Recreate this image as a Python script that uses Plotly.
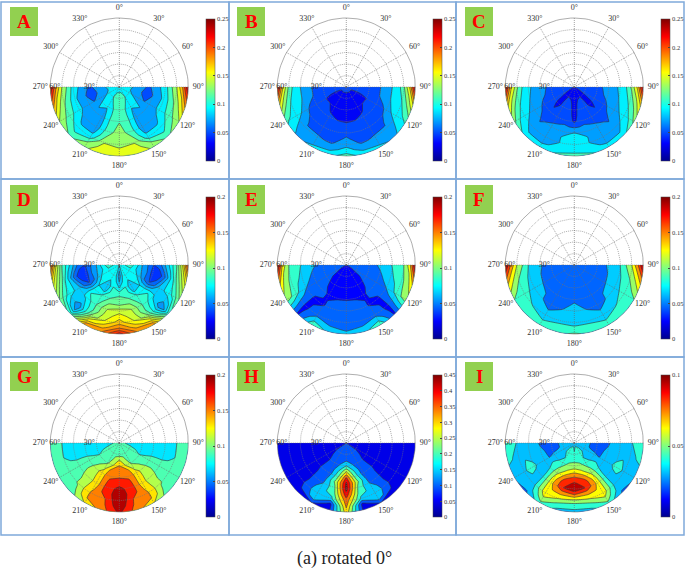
import numpy as np
import plotly.graph_objects as go

W, H = 685, 569
radii = [0, 5, 10, 15, 20, 25, 30, 35, 40, 45, 50, 55, 60]
half_thetas = [90, 105, 120, 135, 150, 165, 180]
ring_values = [10, 20, 30, 40, 50, 60]
spoke_angles = list(range(0, 360, 30))
panel_names = ["A", "B", "C", "D", "E", "F", "G", "H", "I"]

panel_a = [
    [.09, .095, .085, .072, .065, .058, .062, .078, .09, .115, .14, .18, .24],
    [.09, .09, .08, .068, .06, .055, .06, .072, .085, .105, .125, .15, .19],
    [.09, .09, .085, .075, .065, .06, .065, .074, .088, .098, .11, .125, .14],
    [.09, .095, .095, .09, .085, .08, .07, .07, .07, .076, .09, .10, .115],
    [.09, .10, .10, .095, .082, .075, .07, .068, .068, .076, .09, .12, .135],
    [.09, .10, .105, .103, .10, .10, .103, .105, .11, .12, .138, .15, .158],
    [.09, .10, .105, .108, .11, .115, .118, .125, .13, .135, .135, .143, .155],
]
panel_b = [
    [.05, .045, .045, .048, .052, .055, .06, .07, .08, .09, .115, .16, .24],
    [.05, .045, .043, .045, .05, .055, .06, .07, .08, .085, .10, .125, .16],
    [.05, .04, .038, .038, .04, .045, .05, .055, .065, .08, .09, .095, .105],
    [.05, .04, .035, .035, .04, .045, .05, .053, .055, .058, .062, .07, .075],
    [.05, .04, .033, .032, .035, .038, .045, .048, .052, .056, .062, .072, .085],
    [.05, .04, .032, .03, .03, .033, .04, .045, .05, .053, .058, .072, .092],
    [.05, .04, .032, .03, .03, .032, .038, .048, .055, .062, .072, .088, .108],
]
panel_c = [
    [.04, .044, .048, .052, .055, .061, .068, .075, .084, .098, .125, .165, .24],
    [.04, .042, .045, .048, .052, .058, .065, .072, .08, .09, .105, .13, .165],
    [.04, .04, .044, .048, .05, .053, .056, .064, .072, .08, .09, .102, .125],
    [.04, .035, .033, .033, .035, .04, .05, .055, .058, .062, .07, .078, .09],
    [.04, .038, .04, .045, .045, .042, .05, .058, .065, .068, .07, .076, .09],
    [.04, .036, .038, .045, .048, .05, .054, .062, .072, .08, .08, .086, .102],
    [.04, .034, .032, .033, .034, .035, .037, .058, .08, .085, .086, .092, .108],
]
panel_d = [
    [.07, .08, .085, .075, .06, .05, .04, .045, .06, .075, .09, .12, .165],
    [.07, .075, .08, .07, .06, .05, .035, .032, .045, .065, .085, .105, .125],
    [.07, .075, .08, .075, .065, .05, .04, .048, .065, .07, .075, .085, .10],
    [.07, .075, .08, .078, .075, .07, .075, .08, .072, .065, .052, .06, .085],
    [.07, .075, .08, .07, .06, .065, .08, .085, .09, .09, .10, .125, .15],
    [.07, .07, .07, .075, .08, .085, .09, .10, .11, .115, .12, .135, .15],
    [.08, .06, .055, .06, .07, .085, .095, .10, .115, .125, .135, .15, .175],
]
panel_e = [
    [.035, .04, .045, .047, .05, .052, .06, .068, .076, .08, .095, .125, .20],
    [.035, .04, .045, .045, .046, .047, .052, .06, .07, .08, .09, .105, .14],
    [.035, .035, .038, .04, .04, .045, .048, .05, .055, .068, .08, .095, .105],
    [.035, .033, .032, .032, .035, .037, .04, .037, .034, .032, .03, .03, .032],
    [.035, .032, .03, .03, .028, .03, .033, .034, .034, .04, .048, .07, .09],
    [.035, .03, .03, .028, .028, .028, .033, .04, .042, .045, .047, .055, .07],
    [.035, .03, .028, .027, .027, .029, .034, .04, .043, .045, .046, .05, .06],
]
panel_f = [
    [.04, .045, .047, .048, .05, .052, .057, .066, .075, .095, .115, .15, .20],
    [.04, .045, .046, .047, .048, .05, .055, .066, .072, .08, .095, .115, .14],
    [.04, .042, .044, .046, .048, .05, .053, .06, .07, .075, .08, .085, .095],
    [.04, .04, .042, .044, .045, .047, .05, .055, .056, .068, .074, .08, .085],
    [.04, .04, .04, .04, .04, .04, .045, .048, .05, .055, .065, .075, .085],
    [.04, .04, .042, .044, .045, .046, .047, .049, .055, .062, .07, .08, .09],
    [.04, .04, .043, .045, .046, .048, .05, .058, .062, .066, .07, .078, .098],
]
panel_g = [
    [.085, .08, .078, .075, .07, .068, .068, .068, .07, .073, .08, .085, .09],
    [.085, .082, .08, .076, .072, .072, .072, .072, .072, .075, .08, .085, .09],
    [.085, .085, .085, .085, .08, .083, .088, .09, .09, .09, .09, .09, .09],
    [.085, .085, .085, .09, .095, .098, .105, .108, .105, .102, .102, .095, .09],
    [.085, .088, .09, .092, .098, .115, .13, .128, .128, .135, .142, .142, .122],
    [.085, .09, .095, .105, .12, .15, .155, .165, .172, .172, .158, .155, .15],
    [.085, .085, .09, .12, .14, .15, .158, .172, .185, .19, .20, .195, .185],
]
panel_h = [
    [.05, .05, .045, .04, .04, .04, .04, .04, .04, .04, .04, .04, .04],
    [.05, .05, .05, .045, .04, .04, .04, .04, .04, .04, .04, .04, .04],
    [.06, .06, .06, .05, .05, .05, .045, .04, .04, .04, .04, .04, .04],
    [.08, .09, .09, .08, .07, .072, .075, .072, .072, .072, .075, .07, .05],
    [.09, .09, .09, .09, .09, .09, .09, .11, .12, .15, .17, .15, .07],
    [.10, .10, .10, .10, .125, .17, .20, .24, .21, .19, .16, .05, .05],
    [.10, .12, .10, .11, .17, .27, .37, .43, .44, .40, .35, .33, .30],
]
panel_i = [
    [.03, .032, .03, .025, .024, .024, .025, .03, .033, .034, .036, .04, .045],
    [.03, .035, .028, .025, .024, .025, .028, .032, .034, .035, .036, .036, .04],
    [.03, .035, .032, .028, .027, .026, .031, .034, .038, .04, .034, .032, .027],
    [.03, .036, .036, .033, .035, .04, .036, .033, .032, .032, .032, .03, .024],
    [.03, .038, .04, .037, .042, .048, .055, .062, .065, .066, .066, .055, .044],
    [.03, .04, .045, .042, .05, .058, .072, .085, .088, .072, .058, .044, .034],
    [.03, .035, .038, .045, .05, .065, .08, .09, .098, .078, .055, .04, .034],
]
panel_tables = [panel_a, panel_b, panel_c, panel_d, panel_e, panel_f, panel_g, panel_h, panel_i]

color_limits = [.25, .25, .25, .2, .2, .2, .2, .45, .1]
level_starts = [.02, .02, .02, .01, .015, .015, .02, .02, .0155]
level_steps = [.02, .02, .02, .01, .02, .02, .02, .05, .0105]
tick_sets = [
    [0, .05, .1, .15, .2, .25], [0, .05, .1, .15, .2, .25], [0, .05, .1, .15, .2, .25],
    [0, .05, .1, .15, .2], [0, .05, .1, .15, .2], [0, .05, .1, .15, .2],
    [0, .05, .1, .15, .2], [0, .05, .1, .15, .2, .25, .3, .35, .4, .45], [0, .05, .1],
]
angle_labels = [f"{a}°" for a in spoke_angles]
radial_labels = ["30°", "60°"]
radial_label_pos = [26, 56]
caption = "(a) rotated 0°"

centers_x = [119.3, 346.3, 574.3]
centers_y = [87, 265, 443]
bar_left = [206, 433, 661]
bar_top = [19.5, 197.5, 375.5]
frame_x = [1, 229, 456, 684]
frame_y = [2, 179, 357, 535]
tag_left = [10, 237, 465]
tag_top = [7, 185, 362]

PX = 69 / 60
RANGE = 72
SERIF = "Liberation Serif"
JET = [(0, (0, 0, 143)), (.125, (0, 0, 255)), (.375, (0, 255, 255)),
       (.625, (255, 255, 0)), (.875, (255, 0, 0)), (1, (128, 0, 0))]


def jet(v):
    v = min(max(v, 0), 1)
    pos = [p for p, _ in JET]
    return "rgb(%d,%d,%d)" % tuple(np.interp(v, pos, [c[k] for _, c in JET]) for k in range(3))


jet_scale = [[p, "rgb(%d,%d,%d)" % c] for p, c in JET]
thetas = half_thetas + [360 - t for t in half_thetas[-2::-1]]
fig = go.Figure()
shapes, annotations, layout_axes = [], [], {}
fine = np.arange(0, 361, 3)

for i, (name, table) in enumerate(zip(panel_names, panel_tables)):
    col, row = i % 3, i // 3
    cx, cy = centers_x[col], centers_y[row]
    suffix = "" if i == 0 else str(i + 1)
    half = RANGE * PX
    layout_axes["xaxis" + suffix] = dict(domain=[(cx - half) / W, (cx + half) / W], range=[-RANGE, RANGE],
                                         visible=False, anchor="y" + suffix)
    layout_axes["yaxis" + suffix] = dict(domain=[1 - (cy + half) / H, 1 - (cy - half) / H], range=[-RANGE, RANGE],
                                         visible=False, anchor="x" + suffix)
    xa, ya = "x" + suffix, "y" + suffix
    rr, tt = np.meshgrid(radii, np.radians(thetas))
    z = table + table[-2::-1]
    cid = "carpet" + name
    hidden = dict(showgrid=False, showline=False, showticklabels="none", startline=False, endline=False,
                  minorgridcount=0, tickmode="array", tickvals=[], title=dict(text=""))
    fig.add_trace(go.Carpet(a=radii, b=thetas, x=(rr * np.sin(tt)).tolist(), y=(rr * np.cos(tt)).tolist(),
                            carpet=cid, xaxis=xa, yaxis=ya,
                            aaxis=dict(smoothing=0, **hidden), baxis=dict(smoothing=1, **hidden)))
    start, step, zmax = level_starts[i], level_steps[i], color_limits[i]
    end = max(max(r) for r in table)
    nc = int(np.floor((end - start) / step)) + 1
    end = start + (nc - 1) * step
    us = np.linspace(0, 1, 41)
    scale = [[float(u), jet((start + (u * nc - .5) * step) / zmax)] for u in us]
    fig.add_trace(go.Contourcarpet(carpet=cid, z=z, xaxis=xa, yaxis=ya, showscale=False, colorscale=scale,
                                   autocontour=False,
                                   contours=dict(coloring="fill", start=start, end=end, size=step),
                                   line=dict(color="#333333", width=0.6, smoothing=0.3)))
    # polar grid
    for ring in ring_values:
        rad = np.radians(fine)
        fig.add_trace(go.Scatter(x=ring * np.sin(rad), y=ring * np.cos(rad), mode="lines", xaxis=xa, yaxis=ya,
                                 hoverinfo="skip", showlegend=False,
                                 line=dict(color="#777777", width=0.6, dash="solid" if ring == 60 else "1px,1px")))
    for ang in spoke_angles:
        rad = np.radians(ang)
        fig.add_trace(go.Scatter(x=[0, 60 * np.sin(rad)], y=[0, 60 * np.cos(rad)], mode="lines", xaxis=xa, yaxis=ya,
                                 hoverinfo="skip", showlegend=False,
                                 line=dict(color="#666666", width=0.6, dash="1px,1px")))
    rad = np.radians(spoke_angles)
    fig.add_trace(go.Scatter(x=68.7 * np.sin(rad), y=68.7 * np.cos(rad), mode="text", text=angle_labels,
                             textposition="middle center", xaxis=xa, yaxis=ya, hoverinfo="skip", showlegend=False,
                             cliponaxis=False, textfont=dict(family=SERIF, size=8, color="#333333")))
    fig.add_trace(go.Scatter(x=[-p for p in radial_label_pos], y=[0, 0], mode="text", text=radial_labels,
                             textposition="middle center", xaxis=xa, yaxis=ya, hoverinfo="skip", showlegend=False,
                             cliponaxis=False, textfont=dict(family=SERIF, size=8, color="#333333")))
    # colour bar
    ticks = tick_sets[i]
    fig.add_trace(go.Scatter(x=[0, 0], y=[0, 0], mode="markers", xaxis=xa, yaxis=ya, hoverinfo="skip",
                             showlegend=False,
                             marker=dict(size=1, opacity=0, color=[0, zmax], cmin=0, cmax=zmax,
                                         colorscale=jet_scale, showscale=True,
                                         colorbar=dict(x=bar_left[col] / W, xanchor="left",
                                                       y=1 - (bar_top[row] + 141.5) / H, yanchor="bottom",
                                                       len=141.5, lenmode="pixels", thickness=9,
                                                       xpad=0, ypad=0, outlinecolor="#444444", outlinewidth=0.5,
                                                       tickmode="array", tickvals=ticks, ticktext=[str(t) for t in ticks],
                                                       ticks="inside", ticklen=1.5, tickwidth=0.4, tickcolor="#444444",
                                                       tickfont=dict(family=SERIF, size=6.5, color="#333333")))))
    # frame and tag
    shapes.append(dict(type="rect", xref="paper", yref="paper", x0=frame_x[col] / W, x1=frame_x[col + 1] / W,
                       y0=1 - frame_y[row + 1] / H, y1=1 - frame_y[row] / H, line=dict(color="#7FA9DA", width=1.5)))
    tx, ty = tag_left[col], tag_top[row]
    shapes.append(dict(type="rect", xref="paper", yref="paper", x0=tx / W, x1=(tx + 28) / W,
                       y0=1 - (ty + 29) / H, y1=1 - ty / H, fillcolor="#92D050", line=dict(width=0), layer="below"))
    annotations.append(dict(text=f"<b>{name}</b>", xref="paper", yref="paper", x=(tx + 14) / W, y=1 - (ty + 14.5) / H,
                            showarrow=False, xanchor="center", yanchor="middle",
                            font=dict(family=SERIF, size=19, color="#FF0000")))

annotations.append(dict(text=caption, xref="paper", yref="paper", x=344 / W, y=1 - 558 / H, showarrow=False,
                        xanchor="center", yanchor="middle", font=dict(family=SERIF, size=18, color="#222222")))

fig.update_layout(width=W, height=H, autosize=False, margin=dict(l=0, r=0, t=0, b=0, pad=0, autoexpand=False),
                  paper_bgcolor="white", plot_bgcolor="rgba(0,0,0,0)", showlegend=False,
                  shapes=shapes, annotations=annotations, **layout_axes)
fig.write_html("out.html", config={"displayModeBar": False}, post_script="document.body.style.margin='0';")
